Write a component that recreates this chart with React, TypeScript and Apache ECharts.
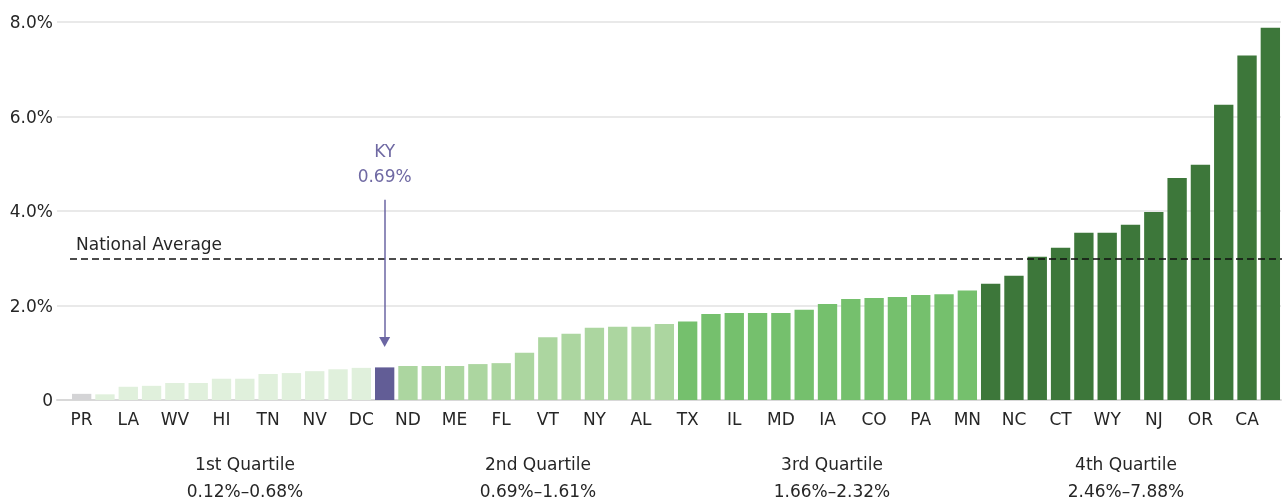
import React, { useEffect, useRef } from "react";
import * as echarts from "echarts";

const states = [
  "PR", "MS", "LA", "AR", "WV", "OK", "HI", "SC", "TN", "AK", "NV", "GA", "DC",
  "KY", "ND", "NE", "ME", "OH", "FL", "IN", "VT", "WI", "NY", "KS", "AL", "MO",
  "TX", "SD", "IL", "MT", "MD", "DE", "IA", "AZ", "CO", "NH", "PA", "MI", "MN",
  "RI", "NC", "UT", "CT", "ID", "WY", "NM", "NJ", "VA", "OR", "WA", "CA", "MA",
];

const values = [
  0.13, 0.12, 0.28, 0.3, 0.36, 0.36, 0.45, 0.45, 0.55, 0.57, 0.61, 0.65, 0.68,
  0.69, 0.72, 0.72, 0.72, 0.76, 0.78, 1.0, 1.33, 1.4, 1.53, 1.55, 1.55, 1.61,
  1.66, 1.82, 1.84, 1.84, 1.84, 1.91, 2.03, 2.14, 2.16, 2.18, 2.22, 2.24, 2.32,
  2.46, 2.63, 3.03, 3.22, 3.54, 3.54, 3.71, 3.98, 4.7, 4.98, 6.25, 7.29, 7.88,
];

const nationalAverage = 3.0;
const highlightState = "KY";
const territoryState = "PR";

const quartileNames = ["1st Quartile", "2nd Quartile", "3rd Quartile", "4th Quartile"];
const quartileRanges = ["0.12%–0.68%", "0.69%–1.61%", "1.66%–2.32%", "2.46%–7.88%"];
const quartileUpper = [0.68, 1.61, 2.32, 7.88];

const yTickValues = [0, 2, 4, 6, 8];

const quartileColors = ["#e0f0dc", "#acd6a0", "#75c06d", "#3d773a"];
const FONT = "'DejaVu Sans', sans-serif";
const FS = 17;
const TEXT = "#262626";

function colorFor(i: number): string {
  if (states[i] === highlightState) return "#625d96";
  if (states[i] === territoryState) return "#d4d4d6";
  const v = values[i];
  for (let q = 0; q < quartileUpper.length; q++) {
    if (v <= quartileUpper[q]) return quartileColors[q];
  }
  return quartileColors[3];
}

export default function App() {
  const ref = useRef<HTMLDivElement>(null);
  useEffect(() => {
    if (!ref.current) return;
    const chart = echarts.init(ref.current, undefined, { renderer: "svg" });
    const hIdx = states.indexOf(highlightState);
    const quartileX = [245, 538, 832, 1126];
    const graphic: any[] = [];
    quartileNames.forEach((n, i) => {
      graphic.push({
        type: "text",
        x: quartileX[i],
        y: 464,
        style: { text: n, fill: TEXT, font: `${FS}px ${FONT}`, textAlign: "center", textVerticalAlign: "middle" },
      });
      graphic.push({
        type: "text",
        x: quartileX[i],
        y: 491,
        style: { text: quartileRanges[i], fill: TEXT, font: `${FS}px ${FONT}`, textAlign: "center", textVerticalAlign: "middle" },
      });
    });
    chart.setOption({
      animation: false,
      grid: [
        { left: 57, right: 4, top: 22, bottom: 102 },
        { left: 70, right: 3, top: 22, bottom: 102 },
      ],
      xAxis: [
        {
          gridIndex: 0,
          type: "value",
          min: 0,
          max: 1,
          axisLabel: { show: false },
          axisTick: { show: false },
          splitLine: { show: false },
          axisLine: { show: true, lineStyle: { color: "#d8d8d8", width: 2 } },
        },
        {
          gridIndex: 1,
          type: "category",
          data: states,
          axisTick: { show: false },
          axisLine: { show: false },
          axisLabel: { interval: 1, color: TEXT, fontSize: FS, margin: 10, fontFamily: FONT },
        },
      ],
      yAxis: [
        {
          gridIndex: 0,
          type: "value",
          min: yTickValues[0],
          max: yTickValues[yTickValues.length - 1],
          interval: 2,
          axisLine: { show: false },
          axisTick: { show: false },
          axisLabel: {
            margin: 4,
            color: TEXT,
            fontSize: FS,
            fontFamily: FONT,
            formatter: (v: number) => (v === 0 ? "0" : v.toFixed(1) + "%"),
          },
          splitLine: { lineStyle: { color: "#e2e2e2", width: 1.5 } },
        },
        {
          gridIndex: 1,
          type: "value",
          min: yTickValues[0],
          max: yTickValues[yTickValues.length - 1],
          interval: 2,
          show: false,
          splitLine: { show: false },
        },
      ],
      graphic,
      series: [
        {
          type: "bar",
          xAxisIndex: 1,
          yAxisIndex: 1,
          barCategoryGap: "17%",
          data: values.map((v, i) => ({ value: v, itemStyle: { color: colorFor(i) } })),
          markLine: {
            silent: true,
            symbol: ["none", "none"],
            data: [
              {
                yAxis: nationalAverage,
                lineStyle: { type: [7, 4], color: "#111", width: 1.5 },
                label: {
                  show: true,
                  position: "insideStartTop",
                  formatter: "National Average",
                  color: TEXT,
                  fontSize: FS,
                  fontFamily: FONT,
                  distance: [6, 6],
                },
              },
              [
                {
                  coord: [highlightState, 4.24],
                  symbol: "none",
                  lineStyle: { type: "solid", color: "#6b66a3", width: 1.5 },
                  label: {
                    show: true,
                    position: "start",
                    formatter: `${highlightState}\n${values[hIdx].toFixed(2)}%`,
                    color: "#6f69a3",
                    fontSize: FS,
                    lineHeight: 25,
                    fontFamily: FONT,
                    distance: 11,
                  },
                },
                { coord: [highlightState, 1.23], symbol: "triangle", symbolSize: [11, 10] },
              ],
            ],
          },
        },
      ],
    });
    return () => chart.dispose();
  }, []);
  return <div ref={ref} style={{ position: "fixed", left: 0, top: 0, width: 1285, height: 502 }} />;
}
